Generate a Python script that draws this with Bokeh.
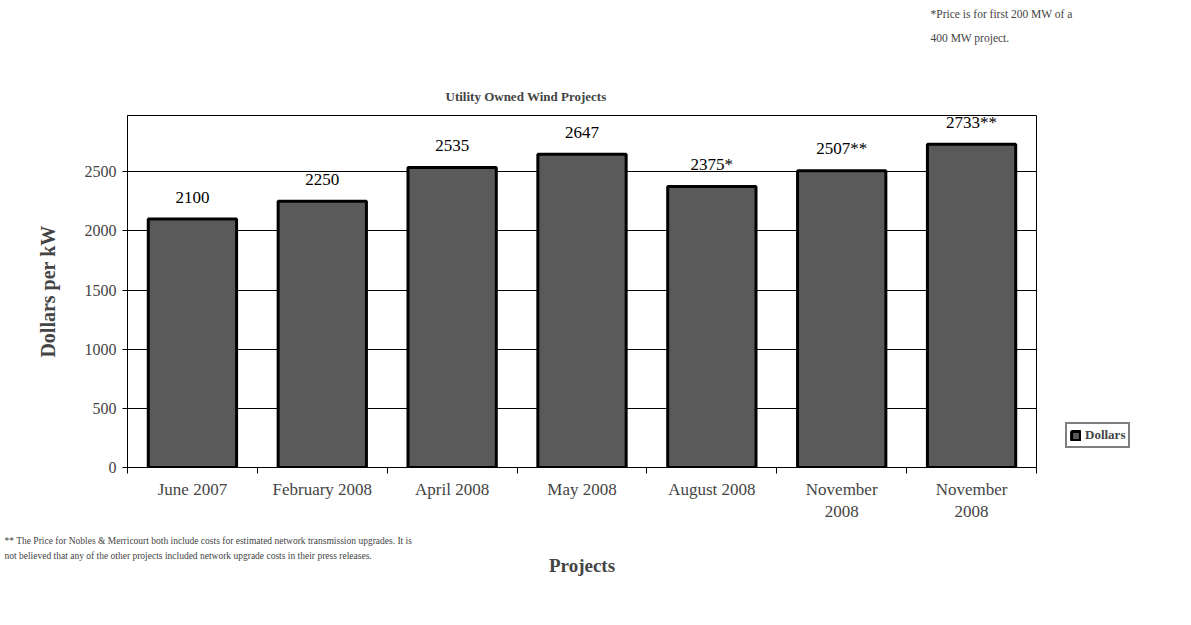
from bokeh.plotting import figure
from bokeh.models import ColumnDataSource, FixedTicker, Legend, LegendItem, Range1d, Title
from bokeh.embed import file_html
from bokeh.resources import INLINE

# ---- data ----
categories = ["June 2007", "February 2008", "April 2008", "May 2008",
              "August 2008", "November\n2008", "November\n2008"]
dollars = [2100, 2250, 2535, 2647, 2375, 2507, 2733]
value_labels = ["2100", "2250", "2535", "2647", "2375*", "2507**", "2733**"]
y_ticks = [0, 500, 1000, 1500, 2000, 2500]

title_text = "Utility Owned Wind Projects"
note_lines = ["*Price is for first 200 MW of a", "400 MW project."]
foot_lines = ["** The Price for Nobles & Merricourt both include costs for estimated network transmission upgrades.  It is",
              "not believed that any of the other projects included network upgrade costs in their press releases."]

SERIF = "Liberation Serif"
W, H = 1183, 617
FL, FT, FR, FB = 127, 115, 1036, 467   # frame edges in page px
frame_w = FR - FL
frame_h = FB - FT
Y_END = 2975
xs = list(range(len(categories)))
uy = Y_END / frame_h

src = ColumnDataSource(dict(x=xs, top=dollars, lab=value_labels,
                            laby=[d + 22 * uy for d in dollars]))

p = figure(frame_width=frame_w, frame_height=frame_h, output_backend="svg", toolbar_location=None,
           x_range=Range1d(-0.5, 6.5), y_range=Range1d(0, Y_END),
           min_border_left=FL, min_border_right=W - FR, min_border_top=FT, min_border_bottom=H - FB)
p.background_fill_color = "white"
p.border_fill_color = "white"
p.outline_line_color = "black"
p.outline_line_width = 1

bars = p.vbar(x="x", top="top", width=0.68, source=src, fill_color="#5a5a5a",
              line_color="black", line_width=3)
p.text(x="x", y="laby", text="lab", source=src, text_align="center", text_baseline="middle",
       text_font={"value": SERIF}, text_font_size="17px", text_color="black")

# axes
p.xaxis.ticker = FixedTicker(ticks=xs, minor_ticks=[i - 0.5 for i in range(len(xs) + 1)])
p.xaxis.major_label_overrides = {i: c for i, c in enumerate(categories)}
p.xaxis.major_tick_out = 0
p.xaxis.major_tick_in = 0
p.xaxis.minor_tick_out = 6
p.xaxis.minor_tick_in = 0
p.xaxis.major_label_text_font = SERIF
p.xaxis.major_label_text_font_size = "17px"
p.xaxis.major_label_standoff = 6
p.xaxis.axis_label = "Projects"
p.xaxis.axis_label_text_font = SERIF
p.xaxis.axis_label_text_font_style = "bold"
p.xaxis.axis_label_text_font_size = "19px"
p.xaxis.axis_label_standoff = 31
p.xaxis.axis_line_color = "black"

p.yaxis.ticker = FixedTicker(ticks=y_ticks)
p.yaxis.minor_tick_line_color = None
p.yaxis.major_tick_in = 4
p.yaxis.major_tick_out = 5
p.yaxis.major_label_text_font = SERIF
p.yaxis.major_label_text_font_size = "16px"
p.yaxis.major_label_standoff = 6
p.yaxis.axis_label = "Dollars per kW"
p.yaxis.axis_label_text_font = SERIF
p.yaxis.axis_label_text_font_style = "bold"
p.yaxis.axis_label_text_font_size = "20px"
p.yaxis.axis_label_standoff = 23
p.yaxis.axis_line_color = "black"

p.xgrid.grid_line_color = None
p.ygrid.ticker = FixedTicker(ticks=y_ticks)
p.ygrid.grid_line_color = "black"
p.ygrid.grid_line_width = 1

# notes above (zero-height panels, text lifted by a negative standoff)
p.add_layout(Title(text=note_lines[1], align="left", offset=930 - FL, vertical_align="top",
                   text_font=SERIF, text_font_style="normal", text_font_size="11.5px",
                   standoff=-168), "above")
p.add_layout(Title(text=note_lines[0], align="left", offset=930 - FL, vertical_align="top",
                   text_font=SERIF, text_font_style="normal", text_font_size="11.5px",
                   standoff=-216), "above")
p.add_layout(Title(text=title_text, align="left", offset=318,
                   text_font=SERIF, text_font_style="bold", text_font_size="13px",
                   standoff=24), "above")

# footnotes below the axis (zero-height panels, text raised by a negative standoff)
p.add_layout(Title(text=foot_lines[0], align="left", offset=4 - FL, vertical_align="top",
                   text_font=SERIF, text_font_style="normal", text_font_size="9.5px",
                   standoff=-87), "below")
p.add_layout(Title(text=foot_lines[1], align="left", offset=4 - FL, vertical_align="top",
                   text_font=SERIF, text_font_style="normal", text_font_size="9.5px",
                   standoff=-57), "below")

legend = Legend(items=[LegendItem(label="Dollars", renderers=[bars])],
                location=(29, 19), orientation="vertical",
                label_text_font=SERIF, label_text_font_style="bold", label_text_font_size="13px",
                border_line_color="black", border_line_width=2, padding=3, spacing=0,
                glyph_width=11, glyph_height=11, label_standoff=4, margin=0,
                label_height=13)
p.add_layout(legend, "right")

open("out.html", "w").write(file_html(p, INLINE))
